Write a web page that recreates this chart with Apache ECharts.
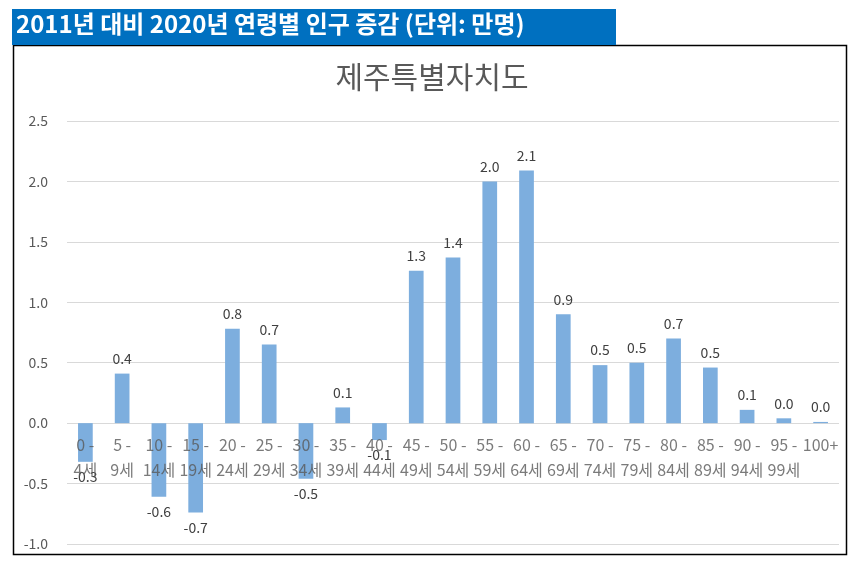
<!DOCTYPE html>
<html>
<head>
<meta charset="utf-8">
<script src="https://cdn.jsdelivr.net/npm/echarts@6/dist/echarts.min.js"></script>
<style>
html,body{margin:0;padding:0;background:#fff;}
#chart{width:864px;height:565px;}
</style>
</head>
<body>
<div id="chart"></div>
<script>
var categories = ['0 -\n4세','5 -\n9세','10 -\n14세','15 -\n19세','20 -\n24세','25 -\n29세','30 -\n34세','35 -\n39세','40 -\n44세','45 -\n49세','50 -\n54세','55 -\n59세','60 -\n64세','65 -\n69세','70 -\n74세','75 -\n79세','80 -\n84세','85 -\n89세','90 -\n94세','95 -\n99세','100+'];
var values = [-0.32, 0.41, -0.61, -0.74, 0.78, 0.65, -0.46, 0.13, -0.14, 1.26, 1.37, 2.00, 2.09, 0.90, 0.48, 0.50, 0.70, 0.46, 0.11, 0.04, 0.01];
var yTicks = [-1.0, -0.5, 0.0, 0.5, 1.0, 1.5, 2.0, 2.5];
var headerText = '2011년 대비 2020년 연령별 인구 증감 (단위: 만명)';
var chartTitle = '제주특별자치도';

var FONT = "'Noto Sans CJK KR', 'Noto Sans', sans-serif";
var chart = echarts.init(document.getElementById('chart'));
var barData = values.map(function (v) {
  return { value: v, label: { position: v < 0 ? 'bottom' : 'top' } };
});
var catLabelData = categories.map(function (c, i) { return [i, 0]; });
chart.setOption({
  backgroundColor: '#ffffff',
  animation: false,
  title: {
    text: chartTitle,
    left: 'center',
    top: 57,
    textStyle: { color: '#595959', fontSize: 30, fontWeight: 'normal', fontFamily: FONT }
  },
  graphic: [
    { type: 'rect', shape: { x: 13.5, y: 45.5, width: 833, height: 509 },
      style: { fill: 'none', stroke: '#000', lineWidth: 1.5 }, z: 0 },
    { type: 'rect', shape: { x: 12, y: 9, width: 604, height: 36 },
      style: { fill: '#0070C0' }, z: 1 },
    { type: 'text', left: 16, top: 12,
      style: { text: headerText, fill: '#ffffff', font: 'bold 24px ' + FONT }, z: 2 }
  ],
  grid: { left: 67, right: 25, top: 121, bottom: 21, containLabel: false, outerBoundsMode: 'none' },
  xAxis: {
    type: 'category',
    data: categories,
    axisLine: { show: false },
    axisTick: { show: false },
    axisLabel: { show: false }
  },
  yAxis: {
    type: 'value',
    min: -1, max: 2.5, interval: 0.5,
    axisLine: { show: false },
    axisTick: { show: false },
    splitLine: { lineStyle: { color: '#d9d9d9', width: 1 } },
    axisLabel: {
      color: '#595959', fontSize: 14, fontFamily: FONT, margin: 19,
      formatter: function (v) { return v.toFixed(1); }
    }
  },
  series: [{
    type: 'bar',
    data: barData,
    barWidth: '40%',
    itemStyle: { color: '#7DAEDE' },
    label: {
      show: true, color: '#404040', fontSize: 14, fontFamily: FONT, distance: 8,
      formatter: function (p) { return p.value.toFixed(1); }
    }
  }, {
    type: 'scatter',
    data: catLabelData,
    symbolSize: 1,
    itemStyle: { color: 'rgba(0,0,0,0)' },
    silent: true,
    z: 5,
    label: {
      show: true, position: 'bottom', distance: 9,
      color: '#595959', fontSize: 16, fontFamily: FONT, lineHeight: 25, align: 'center',
      formatter: function (p) { return categories[p.dataIndex]; }
    }
  }]
});
</script>
</body>
</html>
